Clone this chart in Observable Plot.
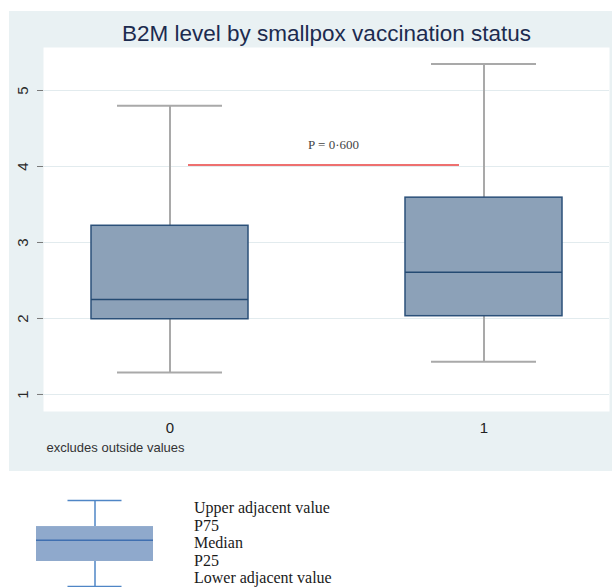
<!DOCTYPE html>
<html>
<head>
<meta charset="utf-8">
<script src="https://cdn.jsdelivr.net/npm/d3@7"></script>
<script src="https://cdn.jsdelivr.net/npm/@observablehq/plot@0.6"></script>
<style>
  html, body { margin: 0; padding: 0; background: #ffffff; }
  body { width: 612px; height: 587px; position: relative; overflow: hidden; }
  #panel { position: absolute; left: 9px; top: 11px; width: 603px; height: 460px; background: #e9f1f3; }
  #legendplot { position: absolute; left: 0px; top: 490px; }
  #legendtext { position: absolute; left: 194px; top: 499px; font-family: "Liberation Serif", "Times New Roman", serif; font-size: 16px; line-height: 17.5px; color: #1a1a1a; }
</style>
</head>
<body>
<div id="panel"></div>
<div id="legendplot"></div>
<div id="legendtext"></div>
<script>
// ---- data ----
const groups = [0, 1];
const lowerAdjacent = [1.29, 1.43];
const p25 = [1.99, 2.03];
const medians = [2.25, 2.61];
const p75 = [3.22, 3.59];
const upperAdjacent = [4.80, 5.35];
const yTicks = [1, 2, 3, 4, 5];
const titleText = "B2M level by smallpox vaccination status";
const noteText = "excludes outside values";
const pValueLabel = "P = 0·600";
const pLineLevel = 4.02;
// schematic legend
const legendLabels = ["Upper adjacent value", "P75", "Median", "P25", "Lower adjacent value"];
const legendLower = 0.7, legendP25 = 1.66, legendMedian = 2.47, legendP75 = 3.0, legendUpper = 4.0;

const rows = groups.map((g, i) => ({
  g, lo: lowerAdjacent[i], q1: p25[i], med: medians[i], q3: p75[i], hi: upperAdjacent[i]
}));

const whisker = {stroke: "#a9a9a9", strokeWidth: 2};

const chart = Plot.plot({
  width: 603,
  height: 460,
  marginLeft: 34,
  marginRight: 3,
  marginTop: 36,
  marginBottom: 60,
  style: {background: "transparent", fontFamily: "'Liberation Sans', Arial, sans-serif", overflow: "visible"},
  x: {type: "band", domain: groups, paddingInner: 0.5, paddingOuter: 0.151, align: 0.5},
  y: {domain: [0.776, 5.566]},
  marks: [
    Plot.frame({fill: "white", stroke: null}),
    Plot.gridY(yTicks, {stroke: "#e2ebee", strokeOpacity: 1}),
    Plot.ruleY([pLineLevel], {stroke: "#e8413f", strokeWidth: 1.5, insetLeft: 145, insetRight: 150}),
    Plot.text([{label: pValueLabel, y: pLineLevel}], {text: "label", y: "y", dy: -20.5, dx: 7,
      fontFamily: "'Liberation Serif', 'Times New Roman', serif", fontSize: 13, fill: "#444"}),
    Plot.ruleX(rows, {x: "g", y1: "q3", y2: "hi", ...whisker}),
    Plot.ruleX(rows, {x: "g", y1: "lo", y2: "q1", ...whisker}),
    Plot.tickY(rows, {x: "g", y: "hi", insetLeft: 26, insetRight: 26, ...whisker}),
    Plot.tickY(rows, {x: "g", y: "lo", insetLeft: 26, insetRight: 26, ...whisker}),
    Plot.barY(rows, {x: "g", y1: "q1", y2: "q3", fill: "#8ca1b8", stroke: "#2b5079", strokeWidth: 1.5}),
    Plot.tickY(rows, {x: "g", y: "med", stroke: "#244a72", strokeWidth: 1.5}),
    Plot.axisY({ticks: yTicks, tickFormat: d => String(d), tickSize: 6, tickRotate: -90, tickPadding: 10, line: true,
      stroke: "#7a7a7a", fill: "#2a2a2a", fontSize: 15, label: null}),
    Plot.axisX({tickSize: 0, tickPadding: 11, line: true, stroke: "#7a7a7a", fill: "#222", fontSize: 15, label: null}),
    Plot.text([titleText], {text: d => d, frameAnchor: "top", lineAnchor: "middle", dy: -14, fontSize: 22.5, fill: "#1c2b4f"}),
    Plot.text([noteText], {text: d => d, frameAnchor: "bottom-left", lineAnchor: "middle", textAnchor: "start", dx: 3, dy: 36, fontSize: 13, fill: "#333"})
  ]
});
document.getElementById("panel").appendChild(chart);

// legend schematic
const legendRow = [{k: "key", lo: legendLower, q1: legendP25, med: legendMedian, q3: legendP75, hi: legendUpper}];
const legendLine = {stroke: "#4f86c6", strokeWidth: 1.5};
const legend = Plot.plot({
  width: 180,
  height: 97,
  marginLeft: 36,
  marginRight: 27,
  marginTop: 10,
  marginBottom: 1,
  style: {background: "transparent", overflow: "visible"},
  x: {type: "band", domain: ["key"], padding: 0, axis: null},
  y: {domain: [legendLower, legendUpper], axis: null},
  marks: [
    Plot.ruleX(legendRow, {x: "k", y1: "q3", y2: "hi", ...legendLine}),
    Plot.ruleX(legendRow, {x: "k", y1: "lo", y2: "q1", ...legendLine}),
    Plot.tickY(legendRow, {x: "k", y: "hi", insetLeft: 31.5, insetRight: 31.5, ...legendLine}),
    Plot.tickY(legendRow, {x: "k", y: "lo", insetLeft: 31.5, insetRight: 31.5, ...legendLine}),
    Plot.barY(legendRow, {x: "k", y1: "q1", y2: "q3", fill: "#8fa9cc"}),
    Plot.tickY(legendRow, {x: "k", y: "med", stroke: "#3f6fb0", strokeWidth: 1.5})
  ]
});
document.getElementById("legendplot").appendChild(legend);
document.getElementById("legendtext").innerHTML = legendLabels.map(t => `<div>${t}</div>`).join("");
</script>
</body>
</html>
